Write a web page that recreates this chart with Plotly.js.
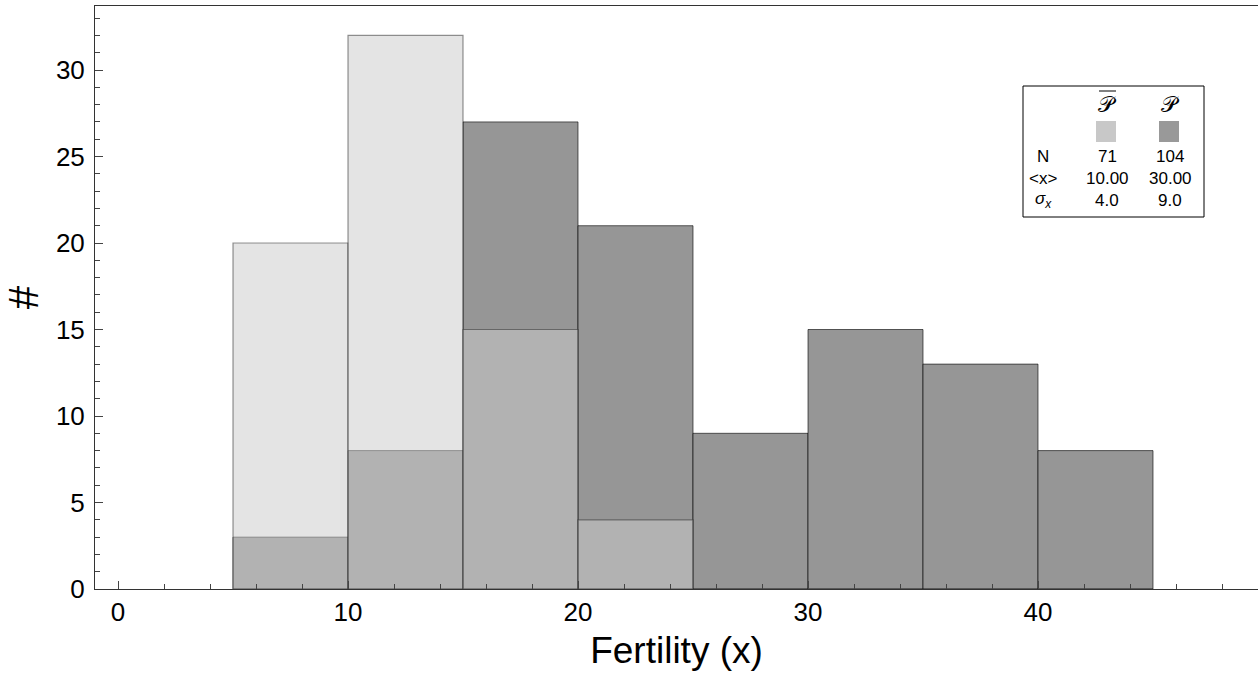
<!DOCTYPE html>
<html>
<head>
<meta charset="utf-8">
<script src="https://cdn.plot.ly/plotly-3.0.1.min.js"></script>
<style>
  html, body { margin: 0; padding: 0; background: #fff; }
  #chart { width: 1258px; height: 678px; }
</style>
</head>
<body>
<div id="chart"></div>
<script>
// Histogram bins (left edges, width 5) and counts for the two groups
const binStarts = [5, 10, 15, 20, 25, 30, 35, 40];
const binWidth = 5;
const countsPbar = [20, 32, 15, 4, 0, 0, 0, 0];   // group P-bar (light)
const countsP = [3, 8, 27, 21, 9, 15, 13, 8];     // group P (dark)

// Summary table shown in the inset
const statLabels = ['N', '&lt;x&gt;', '<i>σ</i><sub><i>x</i></sub>'];
const statsPbar = ['71', '10.00', '4.0'];
const statsP = ['104', '30.00', '9.0'];

const binCenters = binStarts.map(s => s + binWidth / 2);

const W = 1258, H = 678;
const M = { l: 95, r: 0, t: 6, b: 89 };
const pw = W - M.l - M.r, ph = H - M.t - M.b;
const px = x => (x - M.l) / pw;
const py = y => 1 - (y - M.t) / ph;

const traces = [
  {
    type: 'bar', x: binCenters, y: countsP, width: binWidth,
    marker: { color: '#969696', line: { color: 'rgba(0,0,0,0.6)', width: 1 } },
    hoverinfo: 'skip', showlegend: false
  },
  {
    type: 'bar', x: binCenters, y: countsPbar, width: binWidth,
    marker: { color: 'rgba(204,204,204,0.53)', line: { color: 'rgba(40,40,40,0.5)', width: 1.2 } },
    hoverinfo: 'skip', showlegend: false
  }
];

const fontFam = 'Liberation Sans, Arial, sans-serif';

const annotations = [];
const colX = [1043, 1107, 1170];
const rowY = [157, 179, 200];
for (let i = 0; i < statLabels.length; i++) {
  const vals = [statLabels[i], statsPbar[i], statsP[i]];
  vals.forEach((t, j) => {
    annotations.push({
      xref: 'paper', yref: 'paper', x: px(colX[j]), y: py(rowY[i]),
      text: t, showarrow: false, xanchor: 'center', yanchor: 'middle',
      font: { family: fontFam, size: 17, color: '#000' }
    });
  });
}
// column headers
[1107, 1170].forEach(cx => {
  annotations.push({
    xref: 'paper', yref: 'paper', x: px(cx), y: py(104),
    text: '𝒫', showarrow: false, xanchor: 'center', yanchor: 'middle',
    font: { family: 'DejaVu Serif, serif', size: 22, color: '#000' }
  });
});

const shapes = [
  // inset frame
  { type: 'rect', xref: 'paper', yref: 'paper', x0: px(1023), x1: px(1204), y0: py(86), y1: py(217),
    line: { color: '#000', width: 1 }, fillcolor: '#fff', layer: 'above' },
  // overline on the first header
  { type: 'line', xref: 'paper', yref: 'paper', x0: px(1099), x1: px(1116), y0: py(91), y1: py(91),
    line: { color: '#000', width: 1 }, layer: 'above' },
  // colour swatches
  { type: 'rect', xref: 'paper', yref: 'paper', x0: px(1096), x1: px(1116), y0: py(121), y1: py(142),
    line: { width: 0 }, fillcolor: '#c8c8c8', layer: 'above' },
  { type: 'rect', xref: 'paper', yref: 'paper', x0: px(1159), x1: px(1179), y0: py(121), y1: py(142),
    line: { width: 0 }, fillcolor: '#999999', layer: 'above' }
];

const layout = {
  width: W, height: H,
  margin: M,
  paper_bgcolor: '#fff', plot_bgcolor: '#fff',
  barmode: 'overlay', bargap: 0,
  showlegend: false,
  font: { family: fontFam, color: '#000' },
  xaxis: {
    range: [-1, (W - 118) / 23],
    tickmode: 'linear', tick0: 0, dtick: 10,
    ticks: 'inside', ticklen: 8, tickwidth: 1, tickcolor: '#444',
    minor: { tick0: 0, dtick: 2, ticks: 'inside', ticklen: 5, tickwidth: 1, tickcolor: '#444', showgrid: false },
    showline: true, linecolor: '#333', linewidth: 1, mirror: true,
    showgrid: false, zeroline: false,
    tickfont: { family: fontFam, size: 26, color: '#000' },
    title: { text: 'Fertility (x)', font: { family: fontFam, size: 37, color: '#000' }, standoff: 10 }
  },
  yaxis: {
    range: [0, 33.7],
    tickmode: 'linear', tick0: 0, dtick: 5,
    ticks: 'inside', ticklen: 8, tickwidth: 1, tickcolor: '#444',
    minor: { tick0: 0, dtick: 1, ticks: 'inside', ticklen: 5, tickwidth: 1, tickcolor: '#444', showgrid: false },
    showline: true, linecolor: '#333', linewidth: 1, mirror: true,
    showgrid: false, zeroline: false, ticklabelstandoff: 4,
    tickfont: { family: fontFam, size: 26, color: '#000' },
    title: { text: '#', font: { family: fontFam, size: 42, color: '#000' }, standoff: 14 }
  },
  annotations: annotations,
  shapes: shapes
};

Plotly.newPlot('chart', traces, layout, { displayModeBar: false, staticPlot: true });
</script>
</body>
</html>
